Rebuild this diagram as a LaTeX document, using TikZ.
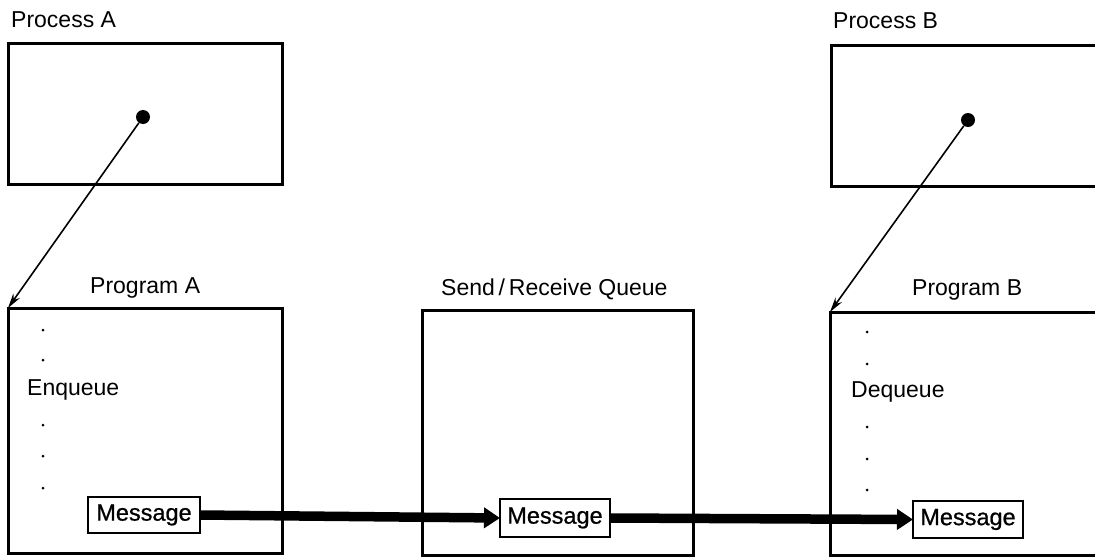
\documentclass[tikz,border=0pt]{standalone}
\usepackage{fontspec}
\setmainfont{Liberation Sans}
\newfontfamily\msgfont[FakeBold=0.8]{Liberation Sans}
\usetikzlibrary{arrows.meta}
\begin{document}
\begin{tikzpicture}[x=1pt,y=-1pt,
  box/.style={draw,line width=3pt,inner sep=0pt,outer sep=0pt},
  msgbox/.style={draw,line width=1.6pt,inner sep=0pt,outer sep=0pt,font=\msgfont\fontsize{23.5}{27}\selectfont},
  lbl/.style={inner sep=0pt,anchor=base west,font=\fontsize{23}{27}\selectfont},
  bigdot/.style={circle,fill,inner sep=0pt,minimum size=14pt},
  link/.style={line width=1.6pt,-{Stealth[length=15pt,width=8pt]}},
  flow/.style={line width=9.5pt,-{Triangle[length=16pt,width=20pt]}},
  smalldot/.style={radius=1.5pt}]
\useasboundingbox (0,0) rectangle (1095,557);
\clip (0,0) rectangle (1095,557);
% boxes
\node[box,minimum width=274pt,minimum height=141pt] (procA) at (145,113.5) {};
\node[box,minimum width=274pt,minimum height=245pt] (progA) at (145,430.5) {};
\node[box,minimum width=271pt,minimum height=245pt] (queue) at (557.5,432.5) {};
\node[box,minimum width=279pt,minimum height=141pt] (procB) at (970.5,115.5) {};
\node[box,minimum width=280pt,minimum height=243pt] (progB) at (970,433.5) {};
% labels
\node[lbl] (lprocA) at (11,27) {Process A};
\node[lbl] (lprocB) at (833,28) {Process B};
\node[lbl] (lprogA) at (90,293) {Program A};
\node[lbl] (lqueue) at (441,295) {Send\,/\,Receive Queue};
\node[lbl] (lprogB) at (912,295) {Program B};
\node[lbl] (enq) at (27,395) {Enqueue};
\node[lbl] (deq) at (851,397) {Dequeue};
% small dots
\foreach \y in {330,360,425,456,488} \fill (43,\y) circle[smalldot];
\foreach \y in {332,364,427,459,490} \fill (867,\y) circle[smalldot];
% process dots
\node[bigdot] (dotA) at (143,117) {};
\node[bigdot] (dotB) at (968,120) {};
% messages
\node[msgbox,minimum width=112pt,minimum height=36pt] (msgA) at (144,515) {Message};
\node[msgbox,minimum width=110pt,minimum height=38pt] (msgQ) at (555,518) {Message};
\node[msgbox,minimum width=110pt,minimum height=37pt] (msgB) at (968,519.5) {Message};
% connectors
\draw[link] (dotA) -- (progA.north west);
\draw[link] (dotB) -- (progB.north west);
\draw[flow] (msgA.east) -- (msgQ.west);
\draw[flow] (msgQ.east) -- (msgB.west);
\end{tikzpicture}
\end{document}
